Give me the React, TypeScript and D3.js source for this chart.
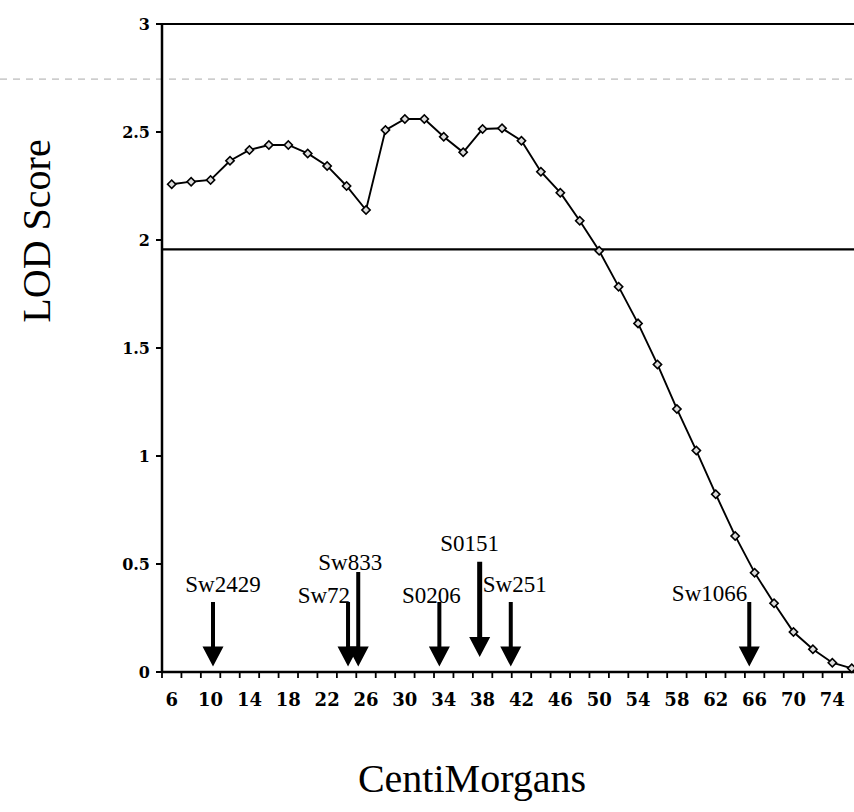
import React from "react";
import * as d3 from "d3";

// ---- data ----
const positionsCM = [6, 8, 10, 12, 14, 16, 18, 20, 22, 24, 26, 28, 30, 32, 34, 36, 38, 40, 42, 44, 46, 48, 50, 52, 54, 56, 58, 60, 62, 64, 66, 68, 70, 72, 74, 76];
const lodScores = [2.258, 2.27, 2.278, 2.367, 2.417, 2.44, 2.44, 2.401, 2.343, 2.25, 2.139, 2.509, 2.56, 2.56, 2.478, 2.406, 2.514, 2.517, 2.46, 2.316, 2.219, 2.089, 1.95, 1.784, 1.614, 1.424, 1.218, 1.025, 0.823, 0.63, 0.46, 0.318, 0.185, 0.105, 0.043, 0.017];
const xTickLabels = [6, 10, 14, 18, 22, 26, 30, 34, 38, 42, 46, 50, 54, 58, 62, 66, 70, 74];
const yTickValues = [0, 0.5, 1, 1.5, 2, 2.5, 3];
const thresholdLOD = 1.957;
const faintLineLOD = 2.745;

const markerNames = ["Sw2429", "Sw72", "Sw833", "S0206", "S0151", "Sw251", "Sw1066"];
const markerCM = [10.25, 24.15, 25.2, 33.55, 37.7, 40.9, 65.45];
const arrowTopLOD = [0.324, 0.324, 0.463, 0.324, 0.51, 0.324, 0.324];
const arrowTipLOD = [0.025, 0.025, 0.025, 0.025, 0.07, 0.025, 0.025];
const labelLOD = [0.37, 0.319, 0.472, 0.319, 0.56, 0.37, 0.329];

// ---- layout ----
const W = 854;
const H = 812;
const left = 162;
const bandW = 19.43;
const x = d3.scaleLinear().domain([5, 77]).range([left, left + 36 * bandW]);
const y = d3.scaleLinear().domain([0, 3]).range([672, 24]);
const labelAnchor = ["middle", "end", "middle", "middle", "middle", "start", "end"];
const labelDx = [10, 2, -8, -8, -10, -28, -2];
const shaftW = [4, 4, 4, 4, 5, 4, 4];

const serif = "'Liberation Serif', 'Times New Roman', serif";
const tickFont = "'DejaVu Serif', serif";

export default function App() {
  const line = d3
    .line<number>()
    .x((_, i) => x(positionsCM[i]))
    .y((d) => y(d));
  const diamond = d3.symbol().type(d3.symbolSquare).size(34)() as string;
  const tickEdges: number[] = [];
  for (let v = 5; v <= 77; v += 2) tickEdges.push(v);

  const arrowPath = (cx: number, top: number, tip: number, sw: number) => {
    const hh = 20;
    const hw = 10.5;
    const s = sw / 2;
    return `M${cx - s},${top}L${cx + s},${top}L${cx + s},${tip - hh}L${cx + hw},${tip - hh}L${cx},${tip}L${cx - hw},${tip - hh}L${cx - s},${tip - hh}Z`;
  };

  return (
    <svg
      width={W}
      height={H}
      style={{ position: "absolute", left: 0, top: 0, background: "#fff" }}
      xmlns="http://www.w3.org/2000/svg"
    >
      <rect x={0} y={0} width={W} height={H} fill="#fff" />
      {/* faint dashed line (scan) */}
      <line x1={0} x2={W} y1={y(faintLineLOD)} y2={y(faintLineLOD)} stroke="#aaa" strokeWidth={1} strokeDasharray="7 6" />
      {/* top line at 3 */}
      <line x1={left - 6} x2={W} y1={y(3)} y2={y(3)} stroke="#000" strokeWidth={2.2} />
      {/* threshold */}
      <line x1={left} x2={W} y1={y(thresholdLOD)} y2={y(thresholdLOD)} stroke="#000" strokeWidth={2.2} />

      {/* y axis */}
      <line x1={left} x2={left} y1={y(3)} y2={y(0) + 1} stroke="#000" strokeWidth={2.5} />
      {yTickValues.map((v) => (
        <g key={v}>
          <line x1={left - 6} x2={left} y1={y(v)} y2={y(v)} stroke="#000" strokeWidth={2} />
          <text x={150} y={y(v)} dy="0.36em" textAnchor="end" fontFamily={tickFont} fontWeight="bold" fontSize={16}>
            {String(v)}
          </text>
        </g>
      ))}

      {/* x axis */}
      <line x1={left} x2={W} y1={y(0)} y2={y(0)} stroke="#000" strokeWidth={2.5} />
      {tickEdges.map((v) => (
        <line key={v} x1={x(v)} x2={x(v)} y1={y(0)} y2={y(0) + 6} stroke="#000" strokeWidth={1.8} />
      ))}
      {xTickLabels.map((v) => (
        <text key={v} x={x(v)} y={706} textAnchor="middle" fontFamily={tickFont} fontWeight="bold" fontSize={18}>
          {v}
        </text>
      ))}

      {/* data line */}
      <path d={line(lodScores) || ""} fill="none" stroke="#000" strokeWidth={1.9} />
      {lodScores.map((v, i) => (
        <path
          key={i}
          d={diamond}
          transform={`translate(${x(positionsCM[i])},${y(v)}) rotate(45)`}
          fill="#ddd"
          stroke="#000"
          strokeWidth={1.6}
        />
      ))}

      {/* markers */}
      {markerNames.map((name, i) => {
        const cx = x(markerCM[i]);
        return (
          <g key={name}>
            <path d={arrowPath(cx, y(arrowTopLOD[i]), y(arrowTipLOD[i]), shaftW[i])} fill="#000" />
            <text
              x={cx + labelDx[i]}
              y={y(labelLOD[i])}
              textAnchor={labelAnchor[i] as any}
              fontFamily={serif}
              fontSize={23}
            >
              {name}
            </text>
          </g>
        );
      })}

      {/* axis titles */}
      <text transform="translate(50,231) rotate(-90)" textAnchor="middle" fontFamily={serif} fontSize={40}>
        LOD Score
      </text>
      <text x={472} y={792} textAnchor="middle" fontFamily={serif} fontSize={40}>
        CentiMorgans
      </text>
    </svg>
  );
}
